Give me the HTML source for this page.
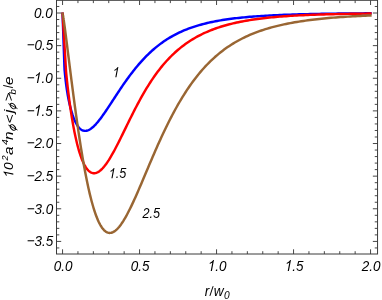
<!DOCTYPE html>
<html><head><meta charset="utf-8">
<style>
html,body{margin:0;padding:0;background:#fff;overflow:hidden;}
svg{display:block;will-change:transform;}
text{font-family:"Liberation Sans",sans-serif;font-style:italic;font-size:13.7px;fill:#000;}
</style></head>
<body>
<svg width="382" height="300" viewBox="0 0 382 300">
<rect x="0" y="0" width="382" height="300" fill="#fff"/>
<g fill="none" stroke-width="2.45" stroke-linejoin="round" stroke-linecap="butt">
<path stroke="#0000ff" d="M62.55,12.40 L62.55,13.00 L62.55,13.01 L62.55,13.03 L62.55,13.09 L62.56,13.18 L62.56,13.32 L62.57,13.50 L62.58,13.74 L62.59,14.03 L62.60,14.38 L62.61,14.80 L62.63,15.28 L62.65,15.84 L62.67,16.47 L62.70,17.17 L62.72,17.96 L62.75,18.82 L62.79,19.78 L62.82,20.82 L62.86,21.95 L62.91,23.18 L62.95,24.50 L63.00,25.91 L63.06,27.43 L63.11,29.05 L63.17,30.78 L63.24,32.61 L63.30,34.55 L63.38,36.60 L63.45,38.76 L63.53,41.04 L63.62,43.44 L63.70,45.95 L63.80,48.58 L63.89,51.34 L63.99,54.22 L64.10,57.23 L64.21,60.37 L64.32,63.63 L64.44,67.03 L64.57,69.55 L64.69,71.02 L64.83,72.48 L64.97,73.93 L65.11,75.37 L65.26,76.80 L65.41,78.23 L65.57,79.64 L65.73,81.04 L65.90,82.43 L66.07,83.82 L66.25,85.19 L66.43,86.54 L66.62,87.89 L66.82,89.22 L67.02,90.55 L67.23,91.86 L67.44,93.15 L67.65,94.43 L67.88,95.70 L68.11,96.96 L68.34,98.20 L68.58,99.43 L68.83,100.64 L69.08,101.84 L69.34,103.02 L69.60,104.19 L69.87,105.34 L70.15,106.48 L70.43,107.60 L70.72,108.70 L71.01,109.79 L71.31,110.85 L71.62,111.90 L71.94,112.93 L72.26,113.94 L72.58,114.93 L72.92,115.90 L73.26,116.84 L73.60,117.76 L73.96,118.66 L74.31,119.54 L74.68,120.39 L75.05,121.21 L75.43,122.01 L75.82,122.77 L76.22,123.51 L76.62,124.22 L77.02,124.90 L77.44,125.55 L77.86,126.16 L78.29,126.74 L78.72,127.28 L79.17,127.79 L79.62,128.27 L80.08,128.70 L80.54,129.10 L81.01,129.46 L81.49,129.78 L81.98,130.06 L82.47,130.30 L82.98,130.50 L83.49,130.66 L84.00,130.77 L84.53,130.84 L85.06,130.87 L85.60,130.86 L86.15,130.80 L86.70,130.70 L87.26,130.56 L87.83,130.37 L88.41,130.14 L89.00,129.86 L89.59,129.54 L90.20,129.18 L90.81,128.78 L91.42,128.33 L92.05,127.84 L92.69,127.31 L93.33,126.74 L93.98,126.13 L94.64,125.48 L95.30,124.79 L95.98,124.06 L96.66,123.29 L97.36,122.49 L98.06,121.65 L98.76,120.77 L99.48,119.86 L100.21,118.92 L100.94,117.94 L101.68,116.94 L102.43,115.90 L103.19,114.83 L103.96,113.73 L104.74,112.61 L105.53,111.46 L106.32,110.29 L107.12,109.09 L107.93,107.87 L108.76,106.63 L109.58,105.37 L110.42,104.09 L111.27,102.80 L112.13,101.49 L112.99,100.16 L113.87,98.82 L114.75,97.46 L115.64,96.10 L116.54,94.73 L117.45,93.34 L118.37,91.95 L119.30,90.56 L120.24,89.15 L121.19,87.75 L122.14,86.34 L123.11,84.93 L124.08,83.52 L125.07,82.12 L126.06,80.71 L127.07,79.31 L128.08,77.91 L129.10,76.52 L130.13,75.13 L131.18,73.75 L132.23,72.38 L133.29,71.02 L134.36,69.67 L135.44,68.33 L136.53,67.00 L137.62,65.69 L138.73,64.39 L139.85,63.10 L140.98,61.83 L142.12,60.57 L143.27,59.33 L144.43,58.10 L145.59,56.89 L146.77,55.70 L147.96,54.53 L149.16,53.38 L150.37,52.25 L151.58,51.13 L152.81,50.04 L154.05,48.96 L155.30,47.90 L156.56,46.87 L157.82,45.86 L159.10,44.86 L160.39,43.89 L161.69,42.94 L163.00,42.01 L164.32,41.10 L165.65,40.21 L166.99,39.34 L168.34,38.49 L169.71,37.66 L171.08,36.86 L172.46,36.07 L173.85,35.30 L175.26,34.56 L176.67,33.83 L178.10,33.13 L179.53,32.44 L180.98,31.77 L182.43,31.12 L183.90,30.49 L185.38,29.88 L186.87,29.29 L188.37,28.71 L189.88,28.15 L191.40,27.61 L192.93,27.08 L194.47,26.58 L196.03,26.08 L197.59,25.60 L199.17,25.14 L200.75,24.70 L202.35,24.26 L203.96,23.84 L205.58,23.44 L207.21,23.05 L208.85,22.67 L210.51,22.31 L212.17,21.95 L213.85,21.61 L215.53,21.28 L217.23,20.96 L218.94,20.66 L220.66,20.36 L222.39,20.08 L224.14,19.80 L225.89,19.54 L227.66,19.28 L229.43,19.03 L231.22,18.79 L233.02,18.56 L234.83,18.34 L236.66,18.13 L238.49,17.92 L240.34,17.73 L242.20,17.54 L244.06,17.35 L245.95,17.18 L247.84,17.00 L249.74,16.84 L251.66,16.68 L253.59,16.53 L255.53,16.38 L257.48,16.24 L259.44,16.11 L261.41,15.98 L263.40,15.85 L265.40,15.73 L267.41,15.62 L269.43,15.51 L271.47,15.40 L273.51,15.30 L275.57,15.20 L277.64,15.10 L279.72,15.01 L281.82,14.92 L283.92,14.84 L286.04,14.76 L288.17,14.68 L290.32,14.60 L292.47,14.53 L294.64,14.46 L296.82,14.40 L299.01,14.33 L301.21,14.27 L303.43,14.21 L305.66,14.16 L307.90,14.10 L310.15,14.05 L312.41,14.00 L314.69,13.96 L316.98,13.91 L319.28,13.87 L321.60,13.83 L323.93,13.79 L326.27,13.75 L328.62,13.71 L330.98,13.68 L333.36,13.65 L335.75,13.61 L338.16,13.58 L340.57,13.55 L343.00,13.53 L345.44,13.50 L347.89,13.47 L350.36,13.45 L352.84,13.43 L355.33,13.41 L357.83,13.38 L360.35,13.36 L362.88,13.35 L365.43,13.33 L367.98,13.31 L370.55,13.29 L371.65,13.29"/>
<path stroke="#ff0000" d="M62.55,12.40 L62.55,13.00 L62.55,13.00 L62.55,13.02 L62.55,13.05 L62.56,13.11 L62.56,13.19 L62.57,13.29 L62.58,13.43 L62.59,13.60 L62.60,13.81 L62.61,14.05 L62.63,14.33 L62.65,14.66 L62.67,15.02 L62.70,15.43 L62.72,15.89 L62.75,16.40 L62.79,16.95 L62.82,17.56 L62.86,18.22 L62.91,18.94 L62.95,19.71 L63.00,20.53 L63.06,21.42 L63.11,22.36 L63.17,23.37 L63.24,24.44 L63.30,25.57 L63.38,26.76 L63.45,28.03 L63.53,29.36 L63.62,30.75 L63.70,32.22 L63.80,33.76 L63.89,35.36 L63.99,37.05 L64.10,38.80 L64.21,40.63 L64.32,42.53 L64.44,44.52 L64.57,46.57 L64.69,48.71 L64.83,50.93 L64.97,53.23 L65.11,55.61 L65.26,58.07 L65.41,60.62 L65.57,63.25 L65.73,65.96 L65.90,68.76 L66.07,71.65 L66.25,73.60 L66.43,75.45 L66.62,77.30 L66.82,79.17 L67.02,81.05 L67.23,82.95 L67.44,84.85 L67.65,86.77 L67.88,88.69 L68.11,90.63 L68.34,92.57 L68.58,94.51 L68.83,96.47 L69.08,98.42 L69.34,100.38 L69.60,102.34 L69.87,104.31 L70.15,106.27 L70.43,108.23 L70.72,110.19 L71.01,112.15 L71.31,114.10 L71.62,116.04 L71.94,117.98 L72.26,119.90 L72.58,121.82 L72.92,123.73 L73.26,125.62 L73.60,127.49 L73.96,129.35 L74.31,131.19 L74.68,133.01 L75.05,134.81 L75.43,136.59 L75.82,138.35 L76.22,140.07 L76.62,141.77 L77.02,143.45 L77.44,145.09 L77.86,146.70 L78.29,148.27 L78.72,149.81 L79.17,151.32 L79.62,152.78 L80.08,154.21 L80.54,155.60 L81.01,156.94 L81.49,158.24 L81.98,159.49 L82.47,160.70 L82.98,161.86 L83.49,162.96 L84.00,164.02 L84.53,165.03 L85.06,165.98 L85.60,166.88 L86.15,167.73 L86.70,168.51 L87.26,169.24 L87.83,169.91 L88.41,170.52 L89.00,171.08 L89.59,171.57 L90.20,171.99 L90.81,172.36 L91.42,172.66 L92.05,172.90 L92.69,173.07 L93.33,173.18 L93.98,173.22 L94.64,173.20 L95.30,173.11 L95.98,172.95 L96.66,172.72 L97.36,172.43 L98.06,172.07 L98.76,171.64 L99.48,171.15 L100.21,170.59 L100.94,169.96 L101.68,169.27 L102.43,168.51 L103.19,167.68 L103.96,166.79 L104.74,165.83 L105.53,164.81 L106.32,163.73 L107.12,162.58 L107.93,161.38 L108.76,160.11 L109.58,158.79 L110.42,157.41 L111.27,155.97 L112.13,154.48 L112.99,152.94 L113.87,151.35 L114.75,149.71 L115.64,148.03 L116.54,146.30 L117.45,144.53 L118.37,142.71 L119.30,140.87 L120.24,138.98 L121.19,137.07 L122.14,135.12 L123.11,133.15 L124.08,131.15 L125.07,129.13 L126.06,127.10 L127.07,125.04 L128.08,122.97 L129.10,120.89 L130.13,118.80 L131.18,116.70 L132.23,114.60 L133.29,112.50 L134.36,110.40 L135.44,108.30 L136.53,106.21 L137.62,104.13 L138.73,102.06 L139.85,99.99 L140.98,97.95 L142.12,95.91 L143.27,93.90 L144.43,91.90 L145.59,89.93 L146.77,87.97 L147.96,86.05 L149.16,84.14 L150.37,82.26 L151.58,80.41 L152.81,78.58 L154.05,76.79 L155.30,75.02 L156.56,73.28 L157.82,71.57 L159.10,69.90 L160.39,68.25 L161.69,66.64 L163.00,65.06 L164.32,63.51 L165.65,61.99 L166.99,60.51 L168.34,59.06 L169.71,57.63 L171.08,56.25 L172.46,54.89 L173.85,53.57 L175.26,52.27 L176.67,51.01 L178.10,49.78 L179.53,48.58 L180.98,47.41 L182.43,46.27 L183.90,45.16 L185.38,44.08 L186.87,43.03 L188.37,42.01 L189.88,41.01 L191.40,40.04 L192.93,39.10 L194.47,38.19 L196.03,37.30 L197.59,36.44 L199.17,35.60 L200.75,34.79 L202.35,34.00 L203.96,33.23 L205.58,32.49 L207.21,31.77 L208.85,31.08 L210.51,30.40 L212.17,29.75 L213.85,29.12 L215.53,28.50 L217.23,27.91 L218.94,27.34 L220.66,26.78 L222.39,26.25 L224.14,25.73 L225.89,25.23 L227.66,24.75 L229.43,24.28 L231.22,23.83 L233.02,23.39 L234.83,22.97 L236.66,22.57 L238.49,22.18 L240.34,21.80 L242.20,21.44 L244.06,21.09 L245.95,20.75 L247.84,20.43 L249.74,20.12 L251.66,19.82 L253.59,19.53 L255.53,19.25 L257.48,18.98 L259.44,18.73 L261.41,18.48 L263.40,18.24 L265.40,18.01 L267.41,17.79 L269.43,17.58 L271.47,17.38 L273.51,17.19 L275.57,17.00 L277.64,16.82 L279.72,16.65 L281.82,16.49 L283.92,16.33 L286.04,16.18 L288.17,16.03 L290.32,15.90 L292.47,15.76 L294.64,15.64 L296.82,15.52 L299.01,15.40 L301.21,15.29 L303.43,15.18 L305.66,15.08 L307.90,14.98 L310.15,14.89 L312.41,14.80 L314.69,14.71 L316.98,14.63 L319.28,14.55 L321.60,14.48 L323.93,14.41 L326.27,14.34 L328.62,14.28 L330.98,14.21 L333.36,14.16 L335.75,14.10 L338.16,14.05 L340.57,13.99 L343.00,13.95 L345.44,13.90 L347.89,13.85 L350.36,13.81 L352.84,13.77 L355.33,13.73 L357.83,13.70 L360.35,13.66 L362.88,13.63 L365.43,13.60 L367.98,13.57 L370.55,13.54 L371.65,13.54"/>
<path stroke="#996633" d="M62.55,12.40 L62.55,13.00 L62.55,13.00 L62.55,13.00 L62.55,13.01 L62.56,13.02 L62.56,13.03 L62.57,13.05 L62.58,13.08 L62.59,13.12 L62.60,13.17 L62.61,13.23 L62.63,13.31 L62.65,13.40 L62.67,13.50 L62.70,13.62 L62.72,13.76 L62.75,13.92 L62.79,14.10 L62.82,14.30 L62.86,14.52 L62.91,14.76 L62.95,15.03 L63.00,15.32 L63.06,15.65 L63.11,15.99 L63.17,16.37 L63.24,16.78 L63.30,17.21 L63.38,17.68 L63.45,18.18 L63.53,18.72 L63.62,19.29 L63.70,19.89 L63.80,20.53 L63.89,21.20 L63.99,21.92 L64.10,22.67 L64.21,23.46 L64.32,24.29 L64.44,25.16 L64.57,26.07 L64.69,27.02 L64.83,28.02 L64.97,29.06 L65.11,30.14 L65.26,31.26 L65.41,32.43 L65.57,33.65 L65.73,34.91 L65.90,36.21 L66.07,37.56 L66.25,38.96 L66.43,40.41 L66.62,41.90 L66.82,43.43 L67.02,45.02 L67.23,46.65 L67.44,48.33 L67.65,50.05 L67.88,51.83 L68.11,53.65 L68.34,55.51 L68.58,57.43 L68.83,59.39 L69.08,61.39 L69.34,63.45 L69.60,65.54 L69.87,67.69 L70.15,69.87 L70.43,72.10 L70.72,74.38 L71.01,76.70 L71.31,79.06 L71.62,81.46 L71.94,83.90 L72.26,86.38 L72.58,88.90 L72.92,91.45 L73.26,94.04 L73.60,96.67 L73.96,99.33 L74.31,102.02 L74.68,104.75 L75.05,107.50 L75.43,110.28 L75.82,113.09 L76.22,115.92 L76.62,118.77 L77.02,121.65 L77.44,124.54 L77.86,127.45 L78.29,130.38 L78.72,133.31 L79.17,136.26 L79.62,139.21 L80.08,142.17 L80.54,145.14 L81.01,148.10 L81.49,151.06 L81.98,154.01 L82.47,156.95 L82.98,159.89 L83.49,162.81 L84.00,165.71 L84.53,168.59 L85.06,171.45 L85.60,174.29 L86.15,177.09 L86.70,179.86 L87.26,182.59 L87.83,185.29 L88.41,187.94 L89.00,190.55 L89.59,193.10 L90.20,195.61 L90.81,198.06 L91.42,200.45 L92.05,202.77 L92.69,205.04 L93.33,207.23 L93.98,209.35 L94.64,211.40 L95.30,213.37 L95.98,215.26 L96.66,217.07 L97.36,218.79 L98.06,220.42 L98.76,221.96 L99.48,223.41 L100.21,224.76 L100.94,226.02 L101.68,227.17 L102.43,228.23 L103.19,229.18 L103.96,230.02 L104.74,230.76 L105.53,231.40 L106.32,231.92 L107.12,232.34 L107.93,232.65 L108.76,232.84 L109.58,232.93 L110.42,232.90 L111.27,232.77 L112.13,232.52 L112.99,232.17 L113.87,231.70 L114.75,231.13 L115.64,230.45 L116.54,229.66 L117.45,228.77 L118.37,227.78 L119.30,226.68 L120.24,225.48 L121.19,224.18 L122.14,222.79 L123.11,221.31 L124.08,219.73 L125.07,218.06 L126.06,216.31 L127.07,214.47 L128.08,212.55 L129.10,210.56 L130.13,208.49 L131.18,206.35 L132.23,204.14 L133.29,201.86 L134.36,199.53 L135.44,197.13 L136.53,194.68 L137.62,192.18 L138.73,189.63 L139.85,187.04 L140.98,184.40 L142.12,181.73 L143.27,179.02 L144.43,176.29 L145.59,173.52 L146.77,170.73 L147.96,167.93 L149.16,165.10 L150.37,162.26 L151.58,159.41 L152.81,156.56 L154.05,153.70 L155.30,150.84 L156.56,147.97 L157.82,145.12 L159.10,142.27 L160.39,139.43 L161.69,136.61 L163.00,133.80 L164.32,131.00 L165.65,128.23 L166.99,125.48 L168.34,122.75 L169.71,120.05 L171.08,117.37 L172.46,114.72 L173.85,112.11 L175.26,109.53 L176.67,106.98 L178.10,104.47 L179.53,101.99 L180.98,99.55 L182.43,97.15 L183.90,94.79 L185.38,92.47 L186.87,90.19 L188.37,87.95 L189.88,85.76 L191.40,83.60 L192.93,81.49 L194.47,79.43 L196.03,77.41 L197.59,75.43 L199.17,73.49 L200.75,71.60 L202.35,69.75 L203.96,67.95 L205.58,66.19 L207.21,64.47 L208.85,62.80 L210.51,61.17 L212.17,59.58 L213.85,58.03 L215.53,56.53 L217.23,55.06 L218.94,53.64 L220.66,52.25 L222.39,50.91 L224.14,49.60 L225.89,48.33 L227.66,47.10 L229.43,45.90 L231.22,44.74 L233.02,43.62 L234.83,42.53 L236.66,41.47 L238.49,40.45 L240.34,39.46 L242.20,38.50 L244.06,37.58 L245.95,36.68 L247.84,35.81 L249.74,34.97 L251.66,34.16 L253.59,33.37 L255.53,32.62 L257.48,31.88 L259.44,31.17 L261.41,30.49 L263.40,29.83 L265.40,29.19 L267.41,28.58 L269.43,27.99 L271.47,27.41 L273.51,26.86 L275.57,26.33 L277.64,25.82 L279.72,25.32 L281.82,24.85 L283.92,24.39 L286.04,23.94 L288.17,23.52 L290.32,23.10 L292.47,22.71 L294.64,22.33 L296.82,21.96 L299.01,21.60 L301.21,21.26 L303.43,20.94 L305.66,20.62 L307.90,20.32 L310.15,20.02 L312.41,19.74 L314.69,19.47 L316.98,19.21 L319.28,18.96 L321.60,18.72 L323.93,18.49 L326.27,18.26 L328.62,18.05 L330.98,17.84 L333.36,17.64 L335.75,17.45 L338.16,17.27 L340.57,17.09 L343.00,16.92 L345.44,16.76 L347.89,16.61 L350.36,16.46 L352.84,16.31 L355.33,16.17 L357.83,16.04 L360.35,15.91 L362.88,15.79 L365.43,15.67 L367.98,15.56 L370.55,15.45 L371.65,15.45"/>
</g>
<g stroke="#333" stroke-width="0.9" fill="none">
<line x1="62.55" y1="254.0" x2="62.55" y2="249.30"/>
<line x1="62.55" y1="0.3" x2="62.55" y2="5.00"/>
<line x1="77.95" y1="254.0" x2="77.95" y2="251.20"/>
<line x1="77.95" y1="0.3" x2="77.95" y2="3.10"/>
<line x1="93.35" y1="254.0" x2="93.35" y2="251.20"/>
<line x1="93.35" y1="0.3" x2="93.35" y2="3.10"/>
<line x1="108.75" y1="254.0" x2="108.75" y2="251.20"/>
<line x1="108.75" y1="0.3" x2="108.75" y2="3.10"/>
<line x1="124.15" y1="254.0" x2="124.15" y2="251.20"/>
<line x1="124.15" y1="0.3" x2="124.15" y2="3.10"/>
<line x1="139.55" y1="254.0" x2="139.55" y2="249.30"/>
<line x1="139.55" y1="0.3" x2="139.55" y2="5.00"/>
<line x1="154.95" y1="254.0" x2="154.95" y2="251.20"/>
<line x1="154.95" y1="0.3" x2="154.95" y2="3.10"/>
<line x1="170.35" y1="254.0" x2="170.35" y2="251.20"/>
<line x1="170.35" y1="0.3" x2="170.35" y2="3.10"/>
<line x1="185.75" y1="254.0" x2="185.75" y2="251.20"/>
<line x1="185.75" y1="0.3" x2="185.75" y2="3.10"/>
<line x1="201.15" y1="254.0" x2="201.15" y2="251.20"/>
<line x1="201.15" y1="0.3" x2="201.15" y2="3.10"/>
<line x1="216.55" y1="254.0" x2="216.55" y2="249.30"/>
<line x1="216.55" y1="0.3" x2="216.55" y2="5.00"/>
<line x1="231.95" y1="254.0" x2="231.95" y2="251.20"/>
<line x1="231.95" y1="0.3" x2="231.95" y2="3.10"/>
<line x1="247.35" y1="254.0" x2="247.35" y2="251.20"/>
<line x1="247.35" y1="0.3" x2="247.35" y2="3.10"/>
<line x1="262.75" y1="254.0" x2="262.75" y2="251.20"/>
<line x1="262.75" y1="0.3" x2="262.75" y2="3.10"/>
<line x1="278.15" y1="254.0" x2="278.15" y2="251.20"/>
<line x1="278.15" y1="0.3" x2="278.15" y2="3.10"/>
<line x1="293.55" y1="254.0" x2="293.55" y2="249.30"/>
<line x1="293.55" y1="0.3" x2="293.55" y2="5.00"/>
<line x1="308.95" y1="254.0" x2="308.95" y2="251.20"/>
<line x1="308.95" y1="0.3" x2="308.95" y2="3.10"/>
<line x1="324.35" y1="254.0" x2="324.35" y2="251.20"/>
<line x1="324.35" y1="0.3" x2="324.35" y2="3.10"/>
<line x1="339.75" y1="254.0" x2="339.75" y2="251.20"/>
<line x1="339.75" y1="0.3" x2="339.75" y2="3.10"/>
<line x1="355.15" y1="254.0" x2="355.15" y2="251.20"/>
<line x1="355.15" y1="0.3" x2="355.15" y2="3.10"/>
<line x1="370.55" y1="254.0" x2="370.55" y2="249.30"/>
<line x1="370.55" y1="0.3" x2="370.55" y2="5.00"/>
<line x1="56.5" y1="247.94" x2="59.30" y2="247.94"/>
<line x1="377.55" y1="247.94" x2="374.75" y2="247.94"/>
<line x1="56.5" y1="241.41" x2="61.20" y2="241.41"/>
<line x1="377.55" y1="241.41" x2="372.85" y2="241.41"/>
<line x1="56.5" y1="234.88" x2="59.30" y2="234.88"/>
<line x1="377.55" y1="234.88" x2="374.75" y2="234.88"/>
<line x1="56.5" y1="228.36" x2="59.30" y2="228.36"/>
<line x1="377.55" y1="228.36" x2="374.75" y2="228.36"/>
<line x1="56.5" y1="221.83" x2="59.30" y2="221.83"/>
<line x1="377.55" y1="221.83" x2="374.75" y2="221.83"/>
<line x1="56.5" y1="215.31" x2="59.30" y2="215.31"/>
<line x1="377.55" y1="215.31" x2="374.75" y2="215.31"/>
<line x1="56.5" y1="208.78" x2="61.20" y2="208.78"/>
<line x1="377.55" y1="208.78" x2="372.85" y2="208.78"/>
<line x1="56.5" y1="202.25" x2="59.30" y2="202.25"/>
<line x1="377.55" y1="202.25" x2="374.75" y2="202.25"/>
<line x1="56.5" y1="195.73" x2="59.30" y2="195.73"/>
<line x1="377.55" y1="195.73" x2="374.75" y2="195.73"/>
<line x1="56.5" y1="189.20" x2="59.30" y2="189.20"/>
<line x1="377.55" y1="189.20" x2="374.75" y2="189.20"/>
<line x1="56.5" y1="182.68" x2="59.30" y2="182.68"/>
<line x1="377.55" y1="182.68" x2="374.75" y2="182.68"/>
<line x1="56.5" y1="176.15" x2="61.20" y2="176.15"/>
<line x1="377.55" y1="176.15" x2="372.85" y2="176.15"/>
<line x1="56.5" y1="169.62" x2="59.30" y2="169.62"/>
<line x1="377.55" y1="169.62" x2="374.75" y2="169.62"/>
<line x1="56.5" y1="163.10" x2="59.30" y2="163.10"/>
<line x1="377.55" y1="163.10" x2="374.75" y2="163.10"/>
<line x1="56.5" y1="156.57" x2="59.30" y2="156.57"/>
<line x1="377.55" y1="156.57" x2="374.75" y2="156.57"/>
<line x1="56.5" y1="150.05" x2="59.30" y2="150.05"/>
<line x1="377.55" y1="150.05" x2="374.75" y2="150.05"/>
<line x1="56.5" y1="143.52" x2="61.20" y2="143.52"/>
<line x1="377.55" y1="143.52" x2="372.85" y2="143.52"/>
<line x1="56.5" y1="136.99" x2="59.30" y2="136.99"/>
<line x1="377.55" y1="136.99" x2="374.75" y2="136.99"/>
<line x1="56.5" y1="130.47" x2="59.30" y2="130.47"/>
<line x1="377.55" y1="130.47" x2="374.75" y2="130.47"/>
<line x1="56.5" y1="123.94" x2="59.30" y2="123.94"/>
<line x1="377.55" y1="123.94" x2="374.75" y2="123.94"/>
<line x1="56.5" y1="117.42" x2="59.30" y2="117.42"/>
<line x1="377.55" y1="117.42" x2="374.75" y2="117.42"/>
<line x1="56.5" y1="110.89" x2="61.20" y2="110.89"/>
<line x1="377.55" y1="110.89" x2="372.85" y2="110.89"/>
<line x1="56.5" y1="104.36" x2="59.30" y2="104.36"/>
<line x1="377.55" y1="104.36" x2="374.75" y2="104.36"/>
<line x1="56.5" y1="97.84" x2="59.30" y2="97.84"/>
<line x1="377.55" y1="97.84" x2="374.75" y2="97.84"/>
<line x1="56.5" y1="91.31" x2="59.30" y2="91.31"/>
<line x1="377.55" y1="91.31" x2="374.75" y2="91.31"/>
<line x1="56.5" y1="84.79" x2="59.30" y2="84.79"/>
<line x1="377.55" y1="84.79" x2="374.75" y2="84.79"/>
<line x1="56.5" y1="78.26" x2="61.20" y2="78.26"/>
<line x1="377.55" y1="78.26" x2="372.85" y2="78.26"/>
<line x1="56.5" y1="71.73" x2="59.30" y2="71.73"/>
<line x1="377.55" y1="71.73" x2="374.75" y2="71.73"/>
<line x1="56.5" y1="65.21" x2="59.30" y2="65.21"/>
<line x1="377.55" y1="65.21" x2="374.75" y2="65.21"/>
<line x1="56.5" y1="58.68" x2="59.30" y2="58.68"/>
<line x1="377.55" y1="58.68" x2="374.75" y2="58.68"/>
<line x1="56.5" y1="52.16" x2="59.30" y2="52.16"/>
<line x1="377.55" y1="52.16" x2="374.75" y2="52.16"/>
<line x1="56.5" y1="45.63" x2="61.20" y2="45.63"/>
<line x1="377.55" y1="45.63" x2="372.85" y2="45.63"/>
<line x1="56.5" y1="39.10" x2="59.30" y2="39.10"/>
<line x1="377.55" y1="39.10" x2="374.75" y2="39.10"/>
<line x1="56.5" y1="32.58" x2="59.30" y2="32.58"/>
<line x1="377.55" y1="32.58" x2="374.75" y2="32.58"/>
<line x1="56.5" y1="26.05" x2="59.30" y2="26.05"/>
<line x1="377.55" y1="26.05" x2="374.75" y2="26.05"/>
<line x1="56.5" y1="19.53" x2="59.30" y2="19.53"/>
<line x1="377.55" y1="19.53" x2="374.75" y2="19.53"/>
<line x1="56.5" y1="13.00" x2="61.20" y2="13.00"/>
<line x1="377.55" y1="13.00" x2="372.85" y2="13.00"/>
<line x1="56.5" y1="6.47" x2="59.30" y2="6.47"/>
<line x1="377.55" y1="6.47" x2="374.75" y2="6.47"/>
</g>
<rect x="56.5" y="0.3" width="321.05" height="253.7" fill="none" stroke="#3a3a3a" stroke-width="1"/>
<g>
<g transform="translate(63.15,270.90) scale(1.0,1.12)"><text x="-9.38" y="0" style="font-size:13.5px">0.0</text></g>
<g transform="translate(140.15,270.90) scale(1.0,1.12)"><text x="-9.38" y="0" style="font-size:13.5px">0.5</text></g>
<g transform="translate(217.15,270.90) scale(1.0,1.12)"><path d="M763 0L583 0L583 1147Q518 1085 412.5 1023Q307 961 223 930L223 1104Q374 1175 487 1276Q600 1377 647 1472L763 1472Z" fill="#000" transform="translate(-10.28,0) scale(0.006592,-0.006592) skewX(12)"/><text x="-1.88" y="0" style="font-size:13.5px">.0</text></g>
<g transform="translate(294.15,270.90) scale(1.0,1.12)"><path d="M763 0L583 0L583 1147Q518 1085 412.5 1023Q307 961 223 930L223 1104Q374 1175 487 1276Q600 1377 647 1472L763 1472Z" fill="#000" transform="translate(-10.28,0) scale(0.006592,-0.006592) skewX(12)"/><text x="-1.88" y="0" style="font-size:13.5px">.5</text></g>
<g transform="translate(371.15,270.90) scale(1.0,1.12)"><text x="-9.38" y="0" style="font-size:13.5px">2.0</text></g>
<g transform="translate(52.70,17.80) scale(1.0,1.12)"><text x="-18.77" y="0" style="font-size:13.5px">0.0</text></g>
<g transform="translate(52.70,50.43) scale(1.0,1.12)"><text x="-25.99" y="0" style="font-size:13.5px">−0.5</text></g>
<g transform="translate(52.70,83.06) scale(1.0,1.12)"><text x="-25.99" y="0" style="font-size:13.5px">−</text><path d="M763 0L583 0L583 1147Q518 1085 412.5 1023Q307 961 223 930L223 1104Q374 1175 487 1276Q600 1377 647 1472L763 1472Z" fill="#000" transform="translate(-19.67,0) scale(0.006592,-0.006592) skewX(12)"/><text x="-11.26" y="0" style="font-size:13.5px">.0</text></g>
<g transform="translate(52.70,115.69) scale(1.0,1.12)"><text x="-25.99" y="0" style="font-size:13.5px">−</text><path d="M763 0L583 0L583 1147Q518 1085 412.5 1023Q307 961 223 930L223 1104Q374 1175 487 1276Q600 1377 647 1472L763 1472Z" fill="#000" transform="translate(-19.67,0) scale(0.006592,-0.006592) skewX(12)"/><text x="-11.26" y="0" style="font-size:13.5px">.5</text></g>
<g transform="translate(52.70,148.32) scale(1.0,1.12)"><text x="-25.99" y="0" style="font-size:13.5px">−2.0</text></g>
<g transform="translate(52.70,180.95) scale(1.0,1.12)"><text x="-25.99" y="0" style="font-size:13.5px">−2.5</text></g>
<g transform="translate(52.70,213.58) scale(1.0,1.12)"><text x="-25.99" y="0" style="font-size:13.5px">−3.0</text></g>
<g transform="translate(52.70,246.21) scale(1.0,1.12)"><text x="-25.99" y="0" style="font-size:13.5px">−3.5</text></g>
<g transform="translate(112.60,77.30) scale(1.0,1.12)"><path d="M763 0L583 0L583 1147Q518 1085 412.5 1023Q307 961 223 930L223 1104Q374 1175 487 1276Q600 1377 647 1472L763 1472Z" fill="#000" transform="translate(-0.90,0) scale(0.006201,-0.006201) skewX(12)"/></g>
<g transform="translate(108.70,178.30) scale(1.0,1.12)"><path d="M763 0L583 0L583 1147Q518 1085 412.5 1023Q307 961 223 930L223 1104Q374 1175 487 1276Q600 1377 647 1472L763 1472Z" fill="#000" transform="translate(-0.90,0) scale(0.006201,-0.006201) skewX(12)"/><text x="7.06" y="0" style="font-size:12.7px">.5</text></g>
<g transform="translate(142.40,217.90) scale(1.0,1.12)"><text x="0.00" y="0" style="font-size:12.7px">2.5</text></g>
</g>
<g transform="translate(13.3,176.5) rotate(-90)">
<g transform="translate(-1.20,0.00) scale(1.0,1.0)"><path d="M763 0L583 0L583 1147Q518 1085 412.5 1023Q307 961 223 930L223 1104Q374 1175 487 1276Q600 1377 647 1472L763 1472Z" fill="#000" transform="translate(-0.90,0) scale(0.006689,-0.006689) skewX(12)"/></g>
<g transform="translate(6.50,0.00) scale(1.0,1.0)"><text x="0.00" y="0" style="font-size:13.7px">0</text></g>
<g transform="translate(16.00,-5.60) scale(1.0,1.0)"><text x="0.00" y="0" style="font-size:9.2px">2</text></g>
<g transform="translate(21.50,0.00) scale(1.12,1.0)"><text x="0.00" y="0" style="font-size:13.7px">a</text></g>
<g transform="translate(31.40,-5.60) scale(1.12,1.0)"><text x="0.00" y="0" style="font-size:9.2px">4</text></g>
<g transform="translate(36.40,0.00) scale(1.12,1.0)"><text x="0.00" y="0" style="font-size:13.7px">n</text></g>
<g transform="translate(53.10,0.60) scale(1.12,1.0)"><text x="0.00" y="0" style="font-size:13.7px">&lt;</text></g>
<g transform="translate(63.60,0.00) scale(1.12,1.0)"><text x="0.00" y="0" style="font-size:13.7px">j</text></g>
<g transform="translate(75.00,0.00) scale(1.12,1.0)"><text x="0.00" y="0" style="font-size:13.7px">&gt;</text></g>
<g transform="translate(82.00,2.40) scale(1.05,1.0)"><text x="0.00" y="0" style="font-size:9.2px">b</text></g>
<g transform="translate(91.60,0.00) scale(1.12,1.0)"><text x="0.00" y="0" style="font-size:13.7px">e</text></g>
</g>
<g transform="translate(12.9,127.5)" fill="none" stroke="#000"><ellipse rx="3.3" ry="2.0" transform="rotate(47)" stroke-width="0.95"/><line x1="-4.6" y1="-2.55" x2="4.6" y2="2.55" stroke-width="0.85"/></g>
<g transform="translate(12.9,106.1)" fill="none" stroke="#000"><ellipse rx="3.3" ry="2.0" transform="rotate(47)" stroke-width="0.95"/><line x1="-4.6" y1="-2.55" x2="4.6" y2="2.55" stroke-width="0.85"/></g>
<line x1="3.2" y1="85.4" x2="12.9" y2="87.7" stroke="#000" stroke-width="0.95"/>
<g transform="translate(204.7,296.2) scale(1,1.1)"><text x="0" y="0" style="font-size:13.7px">r</text><text x="9.0" y="0" style="font-size:13.7px">w</text><text x="19.2" y="2.5" style="font-size:10.2px">0</text></g><line x1="209.9" y1="295.9" x2="213.1" y2="286.2" stroke="#000" stroke-width="1.0"/>
</svg>
</body></html>
